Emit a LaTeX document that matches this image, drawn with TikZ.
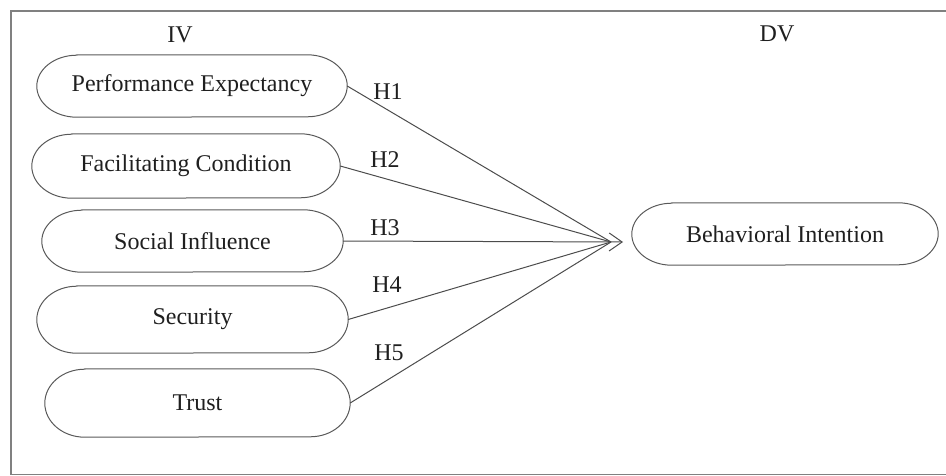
\documentclass[tikz,border=0pt]{standalone}
\usepackage{fontspec}
\setmainfont{Liberation Serif}
\usetikzlibrary{arrows.meta}
\newcommand{\stadium}[3]{% name, x radius, y radius
  \draw[outl] ([xshift=#2]#1.north west) -- ([xshift=-#2]#1.north east)
    arc[start angle=90,end angle=-90,x radius=#2,y radius=#3]
    -- ([xshift=#2]#1.south west)
    arc[start angle=270,end angle=90,x radius=#2,y radius=#3] -- cycle;}
\begin{document}
\begin{tikzpicture}[x=1pt,y=1pt,
  txt/.style={font=\fontsize{24}{28}\selectfont, text=black!88, inner sep=0pt},
  box/.style={txt, draw=none, minimum height=#1},
  outl/.style={draw=black!65, line width=1pt},
  conn/.style={draw=black!70, line width=1pt},
  frame/.style={draw=black!50, line width=1.6pt}]
\useasboundingbox (0,0) rectangle (946,475);
\clip (0,0) rectangle (946,475);
\draw[frame] (11,0.5) rectangle (1000,464);

\node[txt] (iv) at (180,440) {IV};
\node[txt] (dv) at (777,441) {DV};

\node[box=62pt, minimum width=310pt] (pe) at (192,389) {Performance Expectancy};
\node[box=64pt, minimum width=308pt] (fc) at (186,309) {Facilitating Condition};
\node[box=62pt, minimum width=301pt] (si) at (192.5,234) {Social Influence};
\node[box=67pt, minimum width=311pt] (se) at (192.5,155.5) {Security};
\node[box=68pt, minimum width=305pt] (tr) at (197.5,72) {Trust};
\node[box=62pt, minimum width=306pt] (bi) at (785,241) {Behavioral Intention};

\stadium{pe}{40pt}{31pt}
\stadium{fc}{40pt}{32pt}
\stadium{si}{40pt}{31pt}
\stadium{se}{40pt}{33.5pt}
\stadium{tr}{40pt}{34pt}
\stadium{bi}{40pt}{31pt}

\coordinate (conv) at (611,233);
\coordinate (tip) at (623,233);

\draw[conn] (pe.east) -- (conv);
\draw[conn] (fc.east) -- (conv);
\draw[conn, -{Straight Barb[length=13pt,width=18pt]}] (si.east) -- (tip);
\draw[conn] (se.east) -- (conv);
\draw[conn] (tr.east) -- (conv);

\node[txt] (h1) at (388,383) {H1};
\node[txt] (h2) at (385,315) {H2};
\node[txt] (h3) at (385,247) {H3};
\node[txt] (h4) at (387,190) {H4};
\node[txt] (h5) at (389,122) {H5};
\end{tikzpicture}
\end{document}
